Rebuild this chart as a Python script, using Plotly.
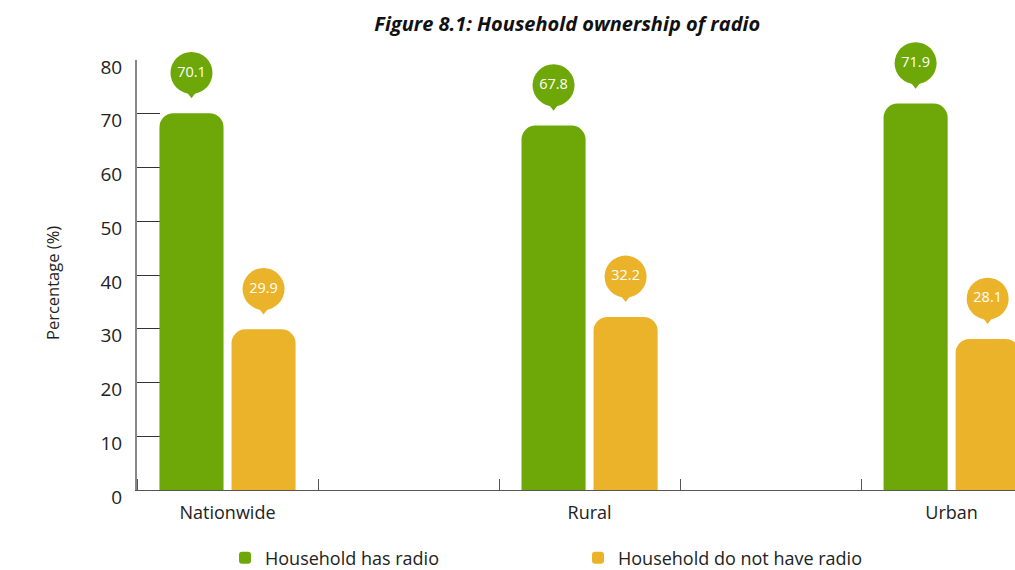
import plotly.graph_objects as go

# Data
categories = ["Nationwide", "Rural", "Urban"]
has_radio = [70.1, 67.8, 71.9]
no_radio = [29.9, 32.2, 28.1]
y_ticks = [0, 10, 20, 30, 40, 50, 60, 70, 80]

GREEN = "#6ea708"
ORANGE = "#ebb32a"
FONT = "Open Sans"

# categories sit on every second slot of a linear axis; the empty slots keep the wide spacing
cat_pos = [2 * i for i in range(len(categories))]
bar_w = 0.354
off_has = -0.376
off_no = 0.022
bubble_lift = 7.5      # bubble centre above bar top, in axis units
tail_lift = 3.6        # small pointer under each bubble

fig = go.Figure()

for name, vals, off, col in [
    ("Household has radio", has_radio, off_has, GREEN),
    ("Household do not have radio", no_radio, off_no, ORANGE),
]:
    fig.add_trace(go.Bar(
        x=cat_pos, y=vals, name=name,
        width=bar_w, offset=off,
        marker=dict(color=col, cornerradius=14, line=dict(width=0)),
        hoverinfo="skip",
    ))
    centers = [p + off + bar_w / 2 for p in cat_pos]
    # pointer of the value bubble
    fig.add_trace(go.Scatter(
        x=centers, y=[v + tail_lift for v in vals], mode="markers",
        marker=dict(symbol="triangle-down", size=9, color=col, line=dict(width=0)),
        showlegend=False, hoverinfo="skip", cliponaxis=False,
    ))
    # value bubble
    fig.add_trace(go.Scatter(
        x=centers, y=[v + bubble_lift for v in vals], mode="markers+text",
        text=[f"{v:.1f}" for v in vals], textposition="middle center",
        textfont=dict(color="white", size=14.5, family=FONT),
        marker=dict(symbol="circle", size=42, color=col, line=dict(width=0)),
        showlegend=False, hoverinfo="skip", cliponaxis=False,
    ))

fig.update_layout(
    width=1015, height=570,
    margin=dict(l=137, r=0, t=60, b=80),
    paper_bgcolor="white", plot_bgcolor="white",
    barmode="overlay",
    font=dict(family=FONT, color="#222222"),
    title=dict(
        text="<b><i>Figure 8.1: Household ownership of radio</i></b>",
        font=dict(family=FONT, size=20, color="#111111"),
        xref="paper", x=0.49, xanchor="center",
        yref="container", y=1 - 24 / 570, yanchor="middle",
    ),
    legend=dict(
        orientation="h",
        xref="container", x=225 / 1015, xanchor="left",
        yref="container", y=(570 - 558) / 570, yanchor="middle",
        entrywidth=308, entrywidthmode="pixels",
        font=dict(size=18, family=FONT, color="#222222"),
        tracegroupgap=0, itemsizing="constant",
    ),
    showlegend=True,
    annotations=[dict(
        text="Percentage (%)", textangle=-90, showarrow=False,
        xref="paper", x=(52 - 137) / 878, xanchor="center",
        yref="paper", y=(490 - 283) / 430, yanchor="middle",
        font=dict(size=16.5, family=FONT, color="#222222"),
    )],
)

fig.update_xaxes(
    range=[-0.5, 4.35],
    tickvals=cat_pos, ticktext=categories,
    ticks="", tickfont=dict(size=18, family=FONT, color="#222222"),
    ticklabelstandoff=6,
    showgrid=False, zeroline=False, automargin=False,
    showline=True, linecolor="#555555", linewidth=1,
    minor=dict(tick0=0.5, dtick=1, ticks="inside", ticklen=11, tickcolor="#555555", tickwidth=1),
)

fig.update_yaxes(
    range=[0, 80], tickvals=y_ticks,
    ticks="inside", ticklen=23, tickcolor="#333333", tickwidth=1,
    tickfont=dict(size=19, family=FONT, color="#222222"),
    ticklabelshift=7, ticklabelstandoff=9,
    showgrid=False, zeroline=False, automargin=False,
    showline=True, linecolor="#888888", linewidth=2,
    layer="below traces",
)

fig.write_html("out.html")
